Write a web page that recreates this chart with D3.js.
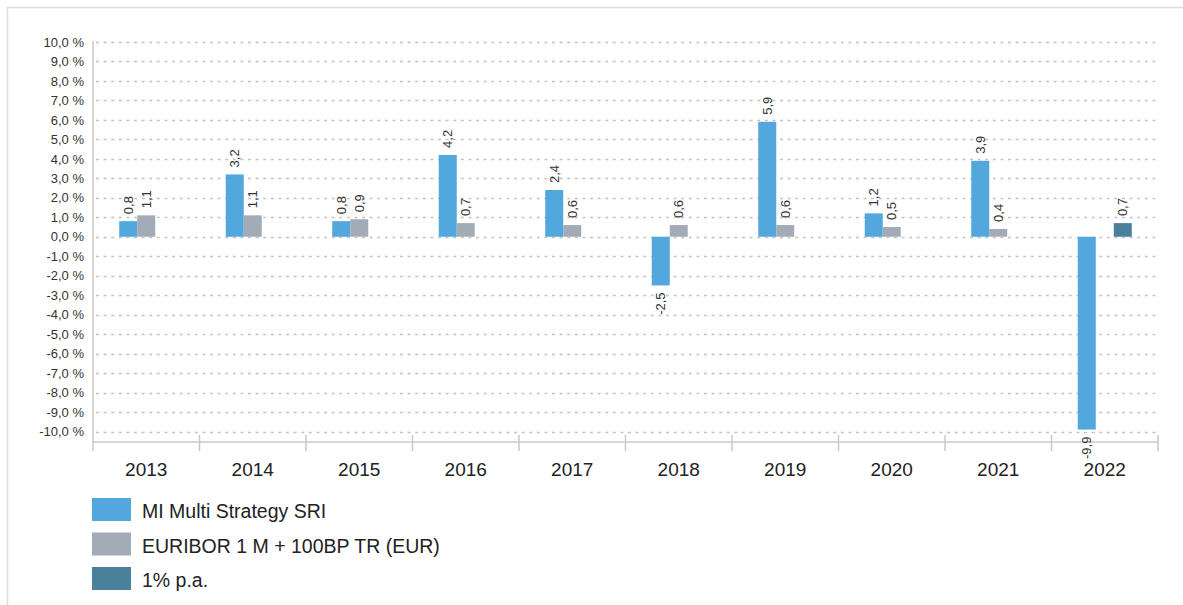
<!DOCTYPE html>
<html>
<head>
<meta charset="utf-8">
<script src="https://cdn.jsdelivr.net/npm/d3@7"></script>
<style>
  body { margin: 0; background: white; }
  text { font-family: "Liberation Sans", Arial, sans-serif; }
</style>
</head>
<body>
<div id="container"></div>
<script>
let years = ["2013","2014","2015","2016","2017","2018","2019","2020","2021","2022"];
let seriesNames = ["MI Multi Strategy SRI", "EURIBOR 1 M + 100BP TR (EUR)", "1% p.a."];
let fundValues = [0.8, 3.2, 0.8, 4.2, 2.4, -2.5, 5.9, 1.2, 3.9, -9.9];
let benchValues = [1.1, 1.1, 0.9, 0.7, 0.6, 0.6, 0.6, 0.5, 0.4, null];
let onePctValues = [null, null, null, null, null, null, null, null, null, 0.7];
let yTicks = [-10,-9,-8,-7,-6,-5,-4,-3,-2,-1,0,1,2,3,4,5,6,7,8,9,10];
let colors = ["#52a7dc", "#a3acb6", "#4a809c"];

let w = 1183;
let h = 605;

let viz = d3.select("#container")
  .append("svg")
    .attr("width", w)
    .attr("height", h)
    .style("display", "block")
;

// frame (only left and top edges are visible)
viz.append("path")
    .attr("d", "M7.5," + h + " V7.5 H" + w)
    .attr("fill", "none")
    .attr("stroke", "#dcdcdc")
    .attr("stroke-width", 1.5)
;

let xScale = d3.scaleBand().domain(years).range([93, 1158]);
let inner = d3.scaleBand().domain([0, 1, 2]).range([0, xScale.bandwidth()]).paddingOuter(1.458);
let yScale = d3.scaleLinear().domain([-10, 10]).range([431.5, 42]);

function fmt(v){
    return v.toFixed(1).replace(".", ",");
}

// gridlines
viz.append("g").selectAll("line").data(yTicks).enter().append("line")
    .attr("x1", 96)
    .attr("x2", 1156)
    .attr("y1", d => Math.round(yScale(d)) + 0.5)
    .attr("y2", d => Math.round(yScale(d)) + 0.5)
    .attr("stroke", "#c4c4c4")
    .attr("stroke-width", 1.5)
    .attr("stroke-dasharray", "3,4.6")
;

// y axis labels
let yAxis = d3.axisLeft(yScale).tickValues(yTicks).tickSize(0).tickPadding(0)
    .tickFormat(d => fmt(d) + " %");
let yAxisG = viz.append("g")
    .attr("transform", "translate(84,0)")
    .call(yAxis);
yAxisG.select(".domain").remove();
yAxisG.selectAll("text")
    .style("font-size", "13px")
    .attr("fill", "#333")
;

// axis lines
viz.append("line")
    .attr("x1", 93).attr("x2", 93)
    .attr("y1", 41).attr("y2", 451)
    .attr("stroke", "#c8c8c8").attr("stroke-width", 1.5)
;
viz.append("line")
    .attr("x1", 93).attr("x2", 1158)
    .attr("y1", 442).attr("y2", 442)
    .attr("stroke", "#c8c8c8").attr("stroke-width", 1.5)
;
let boundaries = years.map(d => xScale(d) + xScale.bandwidth());
viz.append("g").selectAll("line").data(boundaries).enter().append("line")
    .attr("x1", d => d).attr("x2", d => d)
    .attr("y1", 435).attr("y2", 451)
    .attr("stroke", "#c8c8c8").attr("stroke-width", 1.5)
;

// x axis labels
let xAxis = d3.axisBottom(xScale).tickSize(0).tickPadding(0);
let xAxisG = viz.append("g")
    .attr("transform", "translate(0,462)")
    .call(xAxis);
xAxisG.select(".domain").remove();
xAxisG.selectAll("text")
    .style("font-size", "19px")
    .attr("fill", "#222")
;

// bars
let allSeries = [fundValues, benchValues, onePctValues];
let barData = [];
allSeries.forEach(function(vals, s){
    vals.forEach(function(v, i){
        if (v !== null) barData.push({year: years[i], s: s, v: v});
    });
});

let bars = viz.append("g").selectAll(".bar").data(barData).enter()
  .append("g")
    .classed("bar", true)
    .attr("transform", d => "translate(" + (xScale(d.year) + inner(d.s)) + ",0)")
;

bars.append("rect")
    .attr("x", 0)
    .attr("width", inner.bandwidth())
    .attr("y", d => yScale(Math.max(0, d.v)))
    .attr("height", d => Math.abs(yScale(d.v) - yScale(0)))
    .attr("fill", d => colors[d.s])
;

bars.append("text")
    .text(d => fmt(d.v))
    .attr("text-anchor", d => d.v >= 0 ? "start" : "end")
    .attr("dy", "0.35em")
    .attr("transform", function(d){
        let y = d.v >= 0 ? yScale(d.v) - 7 : yScale(d.v) + 7;
        return "translate(" + (inner.bandwidth() / 2) + "," + y + ") rotate(-90)";
    })
    .attr("fill", "#333")
    .style("font-size", "13px")
;

// legend
let legend = viz.append("g").selectAll("g").data(seriesNames).enter()
  .append("g")
    .attr("transform", (d, i) => "translate(92," + (498 + i * 34.5) + ")")
;
legend.append("rect")
    .attr("width", 39)
    .attr("height", 23)
    .attr("fill", (d, i) => colors[i])
;
legend.append("text")
    .text(d => d)
    .attr("x", 50)
    .attr("y", 20)
    .attr("fill", "#222")
    .style("font-size", "19.5px")
;
</script>
</body>
</html>
